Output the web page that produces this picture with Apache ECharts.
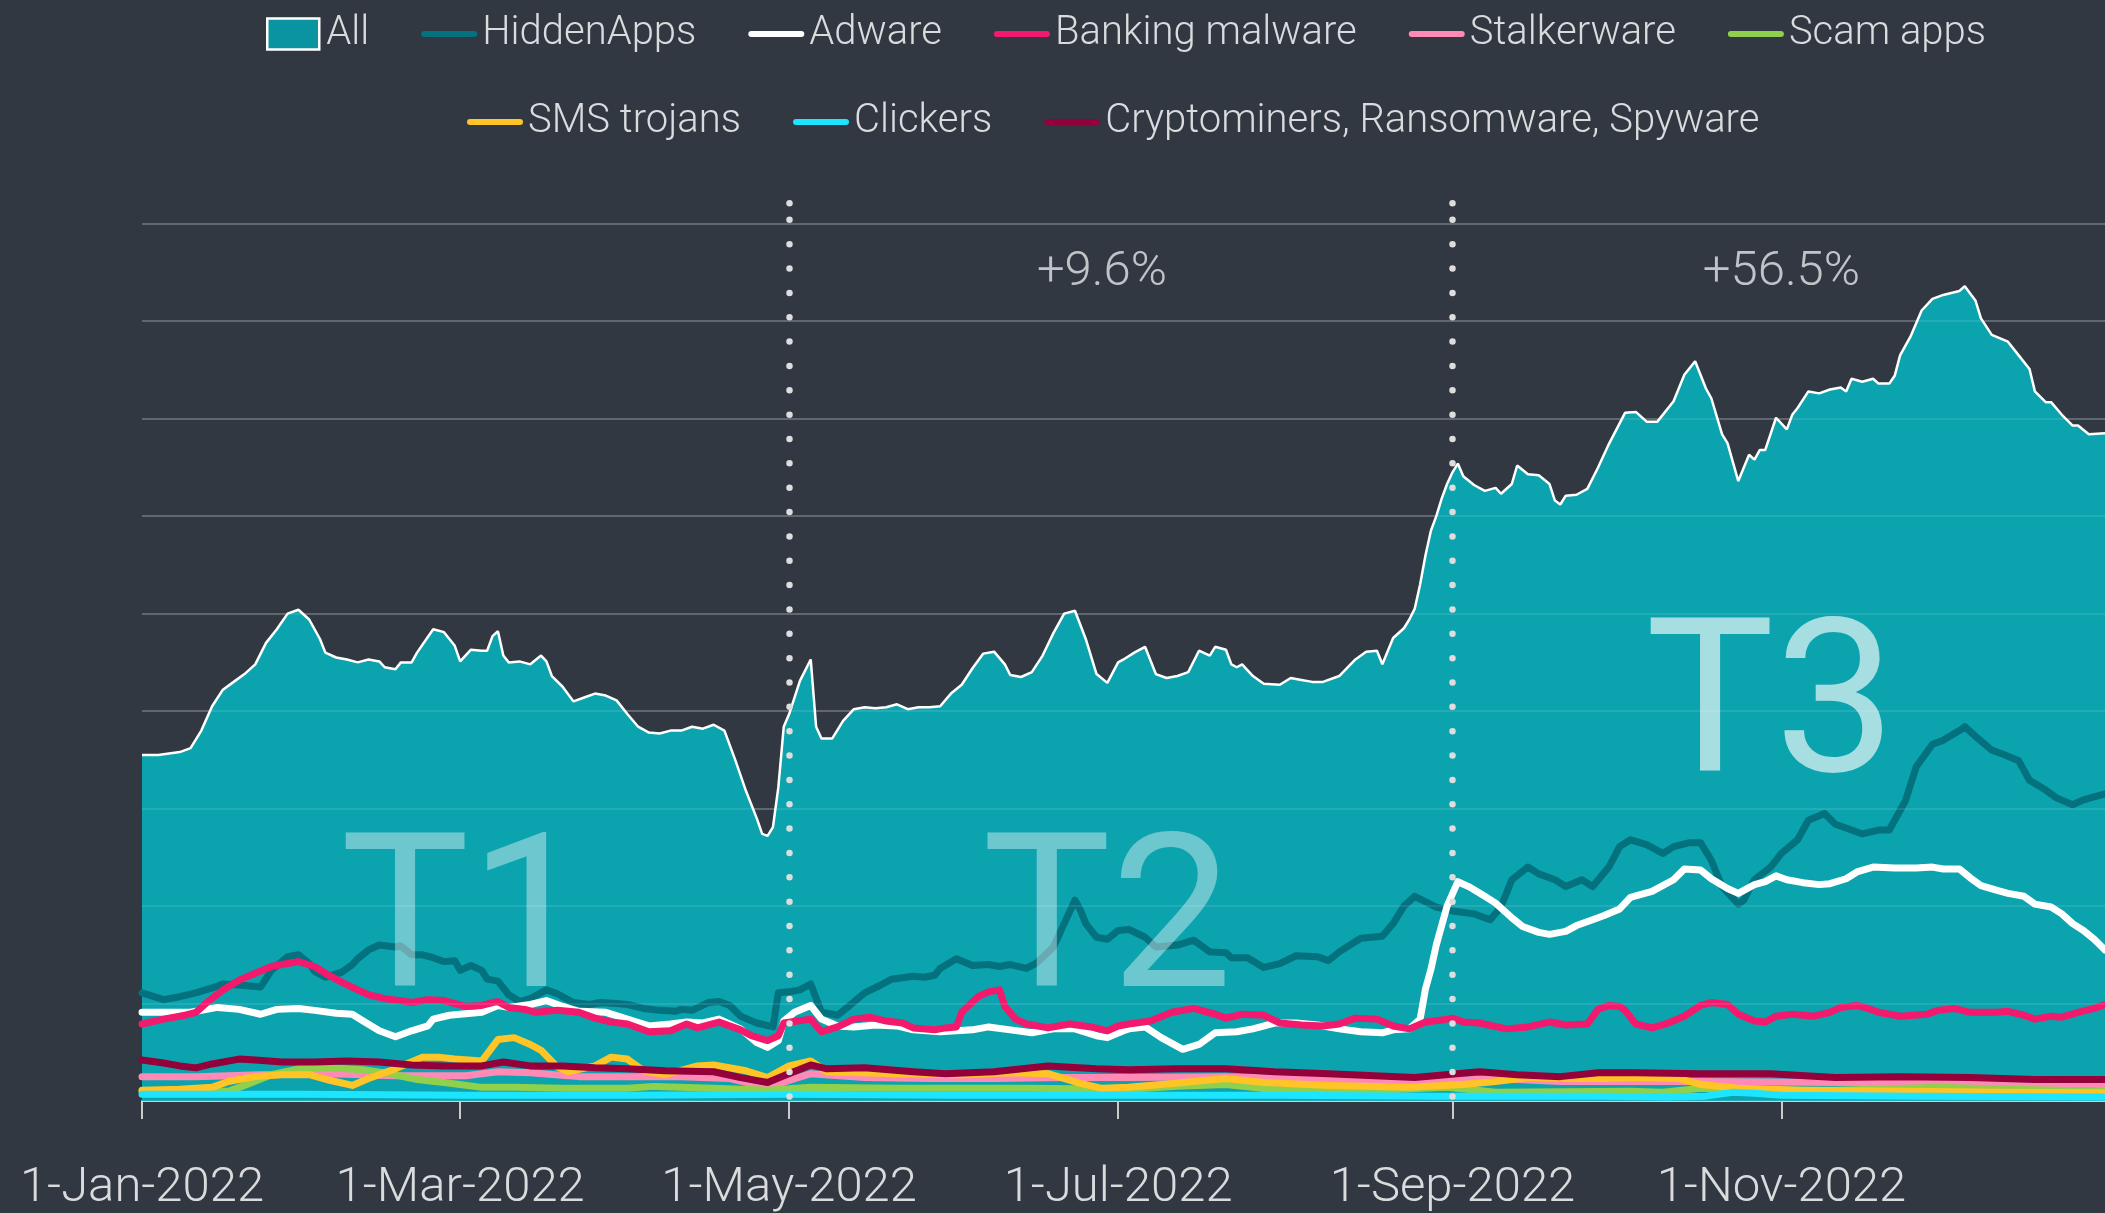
<!DOCTYPE html>
<html>
<head>
<meta charset="utf-8">
<title>Mobile threat detections 2022</title>
<script src="https://cdn.jsdelivr.net/npm/echarts@6/dist/echarts.min.js"></script>
<style>
  html, body { margin: 0; padding: 0; background: #313842; }
  #chart { width: 2105px; height: 1213px; }
</style>
</head>
<body>
<div id="chart"></div>
<script>
// Daily detections in 2022; each pair is [day of year (0 = 1 Jan), value].
const tickLabels = ['1-Jan-2022', '1-Mar-2022', '1-May-2022', '1-Jul-2022', '1-Sep-2022', '1-Nov-2022'];
const periodStarts = ['1-May-2022', '1-Sep-2022'];
const periodLabels = ['T1', 'T2', 'T3'];
const periodLabelPos = [[60, 173], [179, 173], [302, 394]];
const growthLabels = ['+9.6%', '+56.5%'];
const growthLabelPos = [[178, 850], [304, 850]];

const allApps = [[0,355],[3,355],[7,358],[9,362],[11,380],[13,405],[15,422],[17,430],[19,438],[21,448],[23,470],[25,484],[27,500],[29,504],[31,494],[33,474],[34,460],[36,455],[38,453],[40,450],[42,453],[44,451],[45,445],[47,443],[48,450],[50,450],[51,460],[53,476],[54,484],[56,481],[58,467],[59,451],[61,463],[63,462],[64,462],[65,477],[66,482],[67,457],[68,450],[70,451],[72,448],[74,457],[75,451],[76,436],[78,425],[80,410],[82,414],[84,418],[86,416],[88,411],[90,397],[92,384],[94,378],[96,377],[98,380],[100,380],[102,384],[104,382],[106,386],[108,380],[110,350],[112,318],[114,290],[115,274],[116,272],[117,281],[118,322],[119,384],[120,397],[122,431],[124,453],[125,384],[126,372],[128,372],[130,390],[132,402],[134,404],[136,403],[138,404],[140,407],[142,402],[144,404],[146,404],[148,405],[150,418],[152,427],[154,444],[156,459],[158,461],[160,448],[161,437],[163,435],[165,440],[167,457],[169,480],[171,500],[173,503],[175,474],[177,438],[179,429],[181,450],[182,453],[184,460],[186,466],[188,438],[190,434],[192,436],[194,440],[196,462],[198,457],[199,466],[201,463],[202,448],[203,445],[204,448],[206,436],[208,428],[211,427],[213,434],[215,432],[217,430],[219,430],[222,436],[225,453],[227,461],[229,462],[230,448],[232,475],[234,485],[235,494],[236,505],[237,530],[238,560],[239,585],[240,600],[241,618],[242,633],[243,645],[244,654],[245,641],[247,632],[249,626],[251,629],[252,623],[254,633],[255,652],[257,643],[259,642],[261,633],[262,616],[263,612],[264,621],[266,622],[268,628],[270,650],[272,674],[275,706],[277,707],[279,697],[281,697],[284,718],[286,745],[288,759],[290,731],[291,721],[293,684],[294,675],[296,636],[298,663],[299,658],[300,668],[301,668],[303,701],[305,689],[306,704],[307,711],[309,728],[311,726],[313,730],[315,732],[316,728],[317,741],[319,738],[321,741],[322,736],[324,736],[325,744],[326,765],[328,785],[330,811],[332,823],[334,827],[337,831],[338,836],[340,821],[341,803],[343,786],[346,779],[348,765],[350,751],[351,728],[353,717],[354,717],[356,704],[358,693],[359,693],[361,684],[364,685]];

const hiddenApps = [[0,111],[4,104],[7,107],[10,111],[13,116],[15,120],[18,119],[22,117],[24,134],[27,148],[29,150],[31,141],[32,133],[34,127],[37,132],[39,140],[40,146],[42,155],[44,160],[47,158],[48,159],[50,150],[52,150],[54,147],[56,143],[58,144],[59,134],[61,139],[63,134],[64,125],[66,123],[68,109],[70,102],[72,105],[75,114],[77,110],[80,101],[83,99],[85,101],[88,100],[90,99],[93,95],[96,93],[99,92],[100,94],[102,93],[105,101],[107,102],[109,98],[111,87],[114,80],[117,76],[118,111],[120,112],[122,114],[124,120],[126,91],[129,88],[131,97],[134,111],[137,119],[139,125],[143,128],[145,127],[147,129],[148,136],[151,146],[154,139],[157,140],[159,138],[161,140],[164,136],[166,142],[169,158],[171,182],[173,206],[174,196],[175,182],[177,168],[179,166],[181,175],[183,176],[186,168],[188,158],[192,160],[195,165],[198,153],[201,152],[202,147],[205,147],[208,137],[211,141],[214,149],[218,148],[220,144],[222,153],[226,167],[230,169],[232,182],[234,200],[236,210],[240,199],[243,195],[247,192],[250,186],[252,199],[254,227],[257,240],[259,233],[262,227],[264,220],[267,227],[269,220],[272,240],[274,261],[276,268],[279,263],[282,254],[284,261],[287,265],[289,265],[291,247],[293,220],[296,202],[297,206],[299,227],[302,240],[304,254],[307,268],[309,288],[312,295],[314,284],[317,278],[319,274],[322,278],[324,278],[327,308],[329,343],[332,366],[334,370],[337,380],[338,384],[340,374],[343,360],[345,356],[348,349],[350,329],[353,319],[355,311],[358,304],[360,309],[364,315]];

const adware = [[0,91],[4,91],[9,91],[14,96],[18,94],[22,89],[25,94],[29,95],[32,93],[36,90],[39,89],[41,82],[44,72],[47,66],[50,72],[53,77],[54,84],[57,88],[59,89],[63,91],[66,98],[68,96],[72,99],[75,103],[78,97],[81,92],[86,91],[90,84],[94,77],[98,79],[101,81],[104,80],[107,84],[111,74],[114,60],[116,55],[118,62],[119,82],[121,91],[124,98],[126,84],[129,77],[132,76],[136,78],[140,77],[143,73],[148,71],[154,73],[157,76],[161,73],[165,70],[169,74],[173,74],[177,67],[179,65],[182,72],[183,74],[186,76],[189,65],[193,53],[196,58],[199,70],[203,71],[206,74],[210,80],[214,80],[218,78],[222,74],[226,71],[230,70],[232,73],[235,74],[237,84],[238,115],[239,135],[240,160],[241,180],[242,200],[244,225],[246,220],[249,210],[251,203],[254,188],[256,179],[259,173],[261,171],[264,174],[266,180],[269,186],[271,190],[274,197],[276,209],[280,215],[284,227],[286,238],[289,237],[291,228],[294,218],[296,213],[299,222],[301,225],[303,231],[305,227],[308,224],[311,222],[313,223],[316,228],[318,235],[321,240],[325,239],[329,239],[332,240],[334,238],[337,238],[339,229],[341,221],[344,216],[346,213],[349,210],[351,202],[354,199],[356,192],[358,182],[360,175],[362,166],[364,155]];

const bankingMalware = [[0,79],[4,84],[8,88],[10,91],[12,101],[15,114],[18,124],[21,131],[24,138],[27,141],[29,143],[32,138],[34,131],[37,122],[40,114],[42,109],[45,105],[48,103],[50,101],[53,104],[56,103],[60,97],[63,98],[65,101],[66,102],[68,96],[71,94],[73,91],[77,93],[81,91],[84,85],[87,81],[90,79],[94,71],[98,72],[101,79],[103,75],[107,81],[111,73],[113,67],[116,62],[118,67],[119,80],[124,84],[126,71],[129,76],[132,84],[135,86],[138,82],[141,80],[143,75],[147,73],[149,75],[151,76],[152,91],[155,107],[157,112],[159,114],[160,97],[162,84],[164,79],[168,75],[172,79],[176,76],[179,72],[181,77],[183,79],[187,82],[191,91],[195,95],[199,89],[201,85],[204,89],[208,88],[211,80],[215,78],[219,77],[222,79],[225,85],[229,84],[232,77],[235,74],[238,81],[241,83],[243,85],[245,81],[248,80],[253,74],[257,76],[261,81],[264,78],[268,79],[270,94],[272,98],[274,97],[275,93],[277,79],[280,75],[283,80],[286,87],[289,98],[291,101],[294,99],[296,89],[299,82],[301,81],[303,87],[306,89],[310,87],[313,91],[315,96],[318,98],[320,95],[322,91],[326,87],[331,89],[333,93],[336,95],[339,91],[344,91],[346,92],[349,88],[351,84],[354,87],[356,86],[359,91],[362,95],[364,99]];

const stalkerware = [[0,25],[10,25],[22,27],[35,28],[47,26],[60,26],[66,30],[72,29],[81,25],[90,25],[100,25],[109,23],[116,14],[120,21],[124,28],[134,24],[146,23],[158,23],[171,24],[183,24],[201,25],[220,22],[239,20],[251,23],[263,20],[276,20],[289,20],[314,19],[333,19],[346,18],[364,17]];

const scamApps = [[0,10],[16,10],[19,16],[24,27],[29,33],[35,34],[41,32],[46,28],[51,22],[56,19],[63,14],[69,14],[78,13],[90,13],[95,15],[106,13],[116,11],[124,14],[140,13],[152,13],[164,13],[183,12],[192,15],[201,17],[211,11],[229,11],[242,14],[251,9],[276,10],[282,9],[289,13],[299,11],[314,11],[333,14],[346,12],[364,10]];

const smsTrojans = [[0,11],[7,12],[13,14],[16,20],[21,25],[26,27],[31,27],[35,21],[39,16],[42,23],[47,33],[52,45],[55,45],[58,43],[63,41],[66,63],[69,65],[72,58],[74,52],[77,35],[79,30],[84,36],[87,45],[90,43],[93,31],[97,27],[103,36],[106,37],[112,31],[116,24],[120,36],[124,41],[127,30],[140,28],[152,27],[161,29],[168,28],[174,18],[178,13],[183,14],[189,17],[201,23],[208,19],[220,16],[235,14],[245,17],[251,20],[257,24],[266,23],[271,23],[277,24],[285,23],[289,17],[296,13],[308,11],[327,10],[346,9],[364,8.5]];

const clickers = [[0,7],[30,7],[60,6],[90,6],[120,7],[150,6],[180,6],[210,6],[240,5],[270,5],[283,4],[290,5],[295,9],[299,8],[304,6],[330,5],[364,4]];

const cryptoRansomSpy = [[0,42],[4,39],[7,36],[10,34],[13,38],[18,43],[21,42],[26,40],[32,40],[38,41],[44,40],[50,37],[56,36],[63,36],[67,40],[72,36],[78,36],[84,34],[90,33],[97,31],[106,30],[111,24],[116,19],[119,26],[124,37],[127,33],[134,34],[143,30],[149,28],[158,30],[168,36],[177,33],[183,32],[192,33],[201,33],[210,30],[220,28],[236,24],[248,30],[255,27],[263,25],[270,29],[277,29],[289,28],[302,28],[314,24],[326,25],[339,24],[351,22],[364,22]];

// Calendar categories for 2022, labelled like "1-Jan-2022".
const monthNames = ['Jan','Feb','Mar','Apr','May','Jun','Jul','Aug','Sep','Oct','Nov','Dec'];
const categories = [];
for (let d = 0; d < 365; d++) {
  const dt = new Date(2022, 0, 1 + d);
  categories.push(dt.getDate() + '-' + monthNames[dt.getMonth()] + '-' + dt.getFullYear());
}

const lineSeries = [
  { name: 'HiddenApps', data: hiddenApps, color: '#04717f' },
  { name: 'Adware', data: adware, color: '#ffffff' },
  { name: 'Banking malware', data: bankingMalware, color: '#f3196c' },
  { name: 'Stalkerware', data: stalkerware, color: '#ff8ab6' },
  { name: 'Scam apps', data: scamApps, color: '#8fd04c' },
  { name: 'SMS trojans', data: smsTrojans, color: '#ffc425' },
  { name: 'Clickers', data: clickers, color: '#1ee5ff' },
  { name: 'Cryptominers, Ransomware, Spyware', data: cryptoRansomSpy, color: '#93003a' }
];
const areaColor = '#0ba3ad';
const textColor = '#d9dbdd';
const fontFamily = 'Roboto, "Noto Sans", sans-serif';

const lineIcon = 'path://M3,0H53A3,3 0 0 1 53,6H3A3,3 0 0 1 3,0Z';
const boxIcon = 'path://M0,0H52V31H0Z';

function legendItem(name) {
  if (name === 'All') {
    return { name: name, icon: boxIcon, itemStyle: { color: '#0a93a1', borderColor: '#ffffff', borderWidth: 2.5 } };
  }
  const s = lineSeries.find(function (x) { return x.name === name; });
  return { name: name, icon: lineIcon, itemStyle: { color: s.color, borderWidth: 0 } };
}

const legendBase = {
  itemGap: 52,
  itemWidth: 56,
  itemHeight: 31,
  padding: 0,
  selectedMode: false,
  itemStyle: { borderWidth: 0 },
  textStyle: { color: textColor, fontSize: 40, fontWeight: 300, fontFamily: fontFamily }
};

// Vertical separators at the start of each period, drawn as dots.
const separatorLines = [];
periodStarts.forEach(function (p) {
  const idx = categories.indexOf(p);
  separatorLines.push([{ coord: [idx, 904] }, { coord: [idx, 0] }]);
  separatorLines.push([{ coord: [idx, 921] }, { coord: [idx, 919] }]);
});

const series = [
  {
    name: 'All',
    type: 'line',
    data: allApps,
    color: areaColor,
    symbol: 'none',
    clip: false,
    lineStyle: { color: '#ffffff', width: 2.5 },
    areaStyle: { color: areaColor, opacity: 1 },
    z: 2,
    markLine: {
      silent: true,
      symbol: ['none', 'none'],
      label: { show: false },
      animation: false,
      z: 8,
      lineStyle: { color: '#dddddd', width: 6.5, type: [0, 24.35], cap: 'round', opacity: 1 },
      emphasis: { disabled: true },
      data: separatorLines
    }
  }
];
lineSeries.forEach(function (s) {
  series.push({
    name: s.name,
    type: 'line',
    data: s.data,
    color: s.color,
    symbol: 'none',
    lineStyle: { color: s.color, width: 7, join: 'round', cap: 'round' },
    z: 3
  });
});

// Period names drawn translucent over the area.
series.push({
  type: 'scatter',
  silent: true,
  z: 7,
  symbolSize: 0,
  data: periodLabels.map(function (t, i) {
    return {
      value: periodLabelPos[i],
      label: {
        show: true,
        position: 'inside',
        formatter: t,
        fontSize: 216,
        fontFamily: fontFamily,
        fontWeight: 400,
        color: i === 2 ? 'rgba(255,255,255,0.8)' : 'rgba(255,255,255,0.5)'
      }
    };
  })
});

// Growth annotations above each later period.
series.push({
  type: 'scatter',
  silent: true,
  z: 7,
  symbolSize: 0,
  data: growthLabels.map(function (t, i) {
    return {
      value: growthLabelPos[i],
      label: {
        show: true,
        position: 'inside',
        formatter: t,
        fontSize: 49,
        fontFamily: fontFamily,
        fontWeight: 300,
        color: '#e6e7e8'
      }
    };
  })
});

const yBase = {
  type: 'value',
  min: 0,
  max: 925,
  interval: 100,
  axisLine: { show: false },
  axisTick: { show: false },
  axisLabel: { show: false }
};

const chart = echarts.init(document.getElementById('chart'), null, { renderer: 'canvas' });
chart.setOption({
  backgroundColor: '#313842',
  animation: false,
  textStyle: { fontFamily: fontFamily },
  legend: [
    Object.assign({}, legendBase, {
      top: 14,
      left: 266,
      data: ['All', 'HiddenApps', 'Adware', 'Banking malware', 'Stalkerware', 'Scam apps'].map(legendItem)
    }),
    Object.assign({}, legendBase, {
      top: 102,
      left: 467,
      data: ['SMS trojans', 'Clickers', 'Cryptominers, Ransomware, Spyware'].map(legendItem)
    })
  ],
  grid: { left: 142, top: 199.4, width: 1972, height: 909.6, containLabel: false },
  xAxis: {
    type: 'category',
    data: categories,
    boundaryGap: false,
    axisLine: { show: true, lineStyle: { color: '#c9cbcd', width: 2 } },
    axisTick: {
      show: true,
      length: 18,
      lineStyle: { color: '#c9cbcd', width: 2 },
      interval: function (idx, value) { return tickLabels.indexOf(value) >= 0; }
    },
    axisLabel: {
      show: true,
      color: textColor,
      fontSize: 49,
      fontWeight: 300,
      fontFamily: fontFamily,
      margin: 63,
      interval: function (idx, value) { return tickLabels.indexOf(value) >= 0; }
    },
    splitLine: { show: false }
  },
  yAxis: [
    Object.assign({}, yBase, {
      splitLine: { show: true, showMaxLine: false, lineStyle: { color: '#4f5661', width: 2 } }
    }),
    Object.assign({}, yBase, {
      position: 'left',
      z: 5,
      splitLine: { show: true, showMaxLine: false, lineStyle: { color: 'rgba(255,255,255,0.1)', width: 2 } }
    })
  ],
  series: series
});
</script>
</body>
</html>
